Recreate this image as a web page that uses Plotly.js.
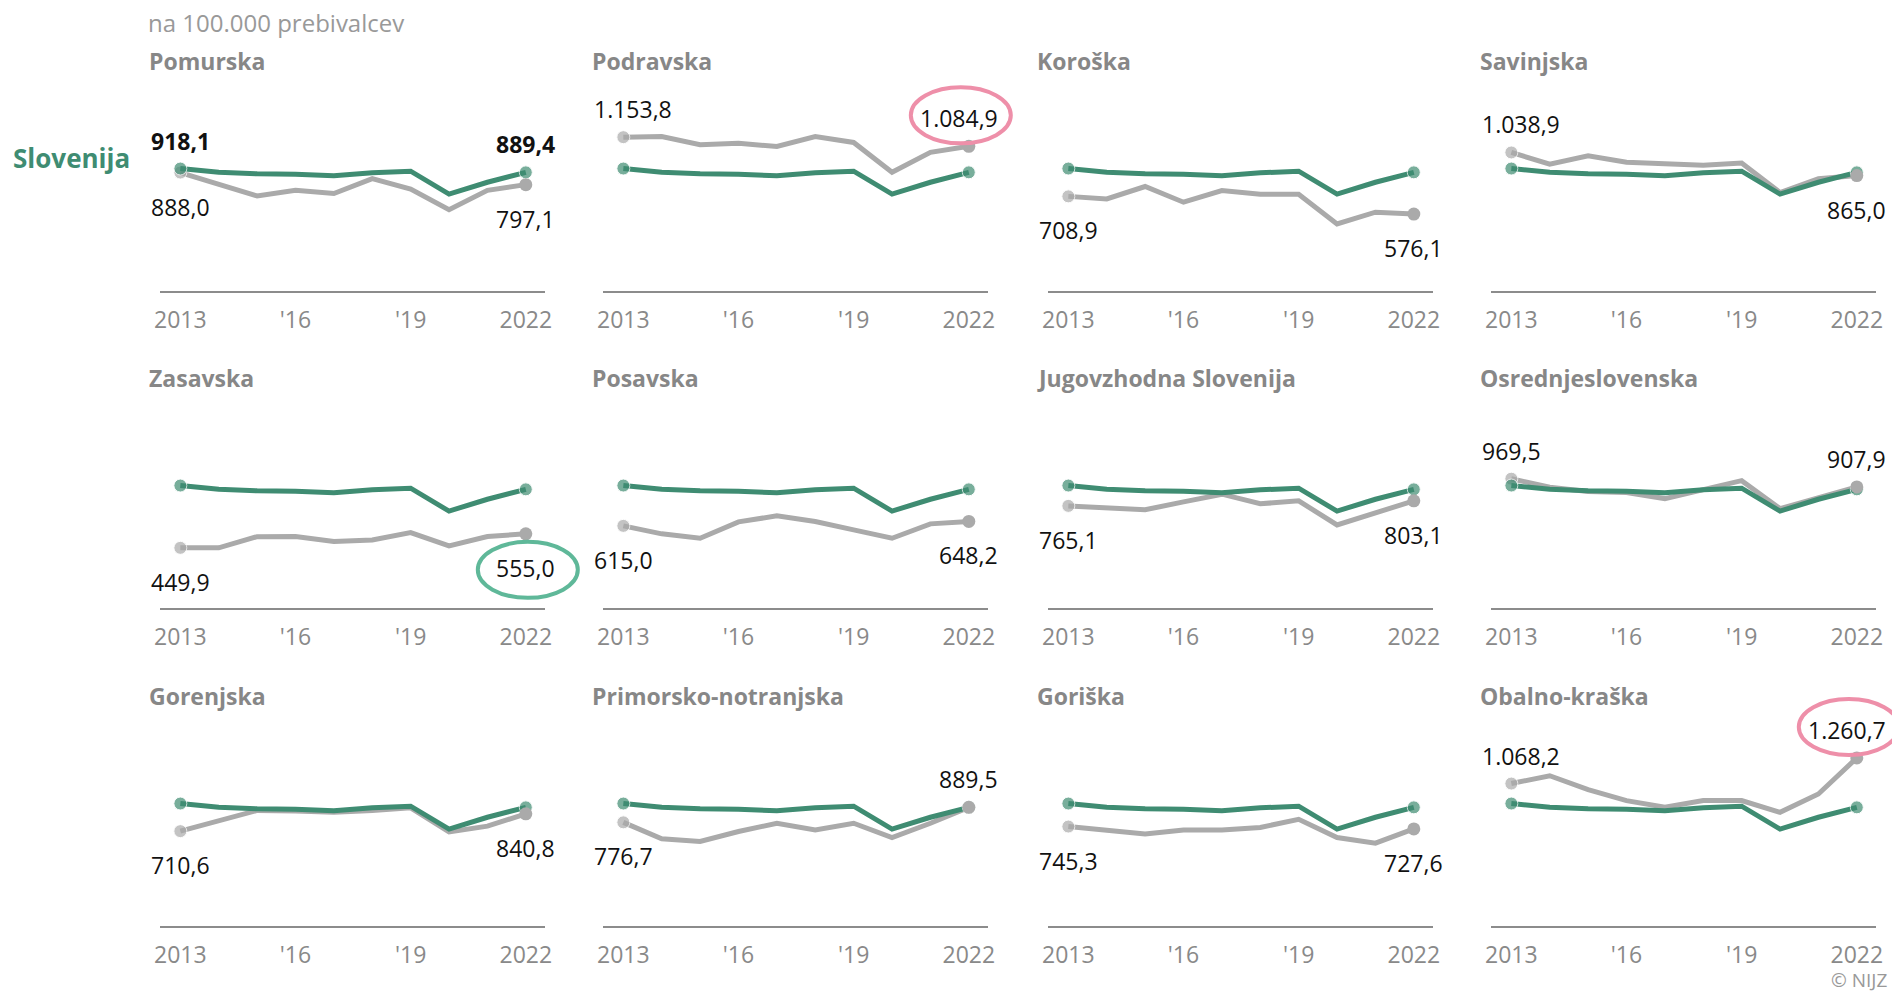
<!DOCTYPE html>
<html>
<head>
<meta charset="utf-8">
<script src="https://cdn.plot.ly/plotly-3.0.1.min.js"></script>
<style>
  html, body { margin: 0; padding: 0; background: #fff; }
  #chart { width: 1892px; height: 994px; }
</style>
</head>
<body>
<div id="chart"></div>
<script>
// ---------------- DATA ----------------
const years = [2013, 2014, 2015, 2016, 2017, 2018, 2019, 2020, 2021, 2022];
const tickVals = [2013, 2016, 2019, 2022];
const tickText = ['2013', "'16", "'19", '2022'];

const regions = ['Pomurska', 'Podravska', 'Koroška', 'Savinjska',
                 'Zasavska', 'Posavska', 'Jugovzhodna Slovenija', 'Osrednjeslovenska',
                 'Gorenjska', 'Primorsko-notranjska', 'Goriška', 'Obalno-kraška'];

const slovenija           = [918.1, 891, 878, 876, 863, 886, 898, 726, 815, 889.4];
const pomurska            = [888.0, 800, 712, 755, 730, 842, 763, 608, 754, 797.1];
const podravska           = [1153.8, 1158, 1097, 1108, 1084, 1158, 1114, 890, 1040, 1084.9];
const koroska             = [708.9, 690, 783, 665, 753, 725, 725, 502, 590, 576.1];
const savinjska           = [1038.9, 951, 1014, 966, 954, 942, 959, 738, 841, 865.0];
const zasavska            = [449.9, 450, 534, 535, 497, 509, 564, 465, 535, 555.0];
const posavska            = [615.0, 555, 522, 645, 690, 648, 585, 522, 630, 648.2];
const jugovzhodna         = [765.1, 755, 736, 795, 853, 781, 803, 622, 712, 803.1];
const osrednjeslovenska   = [969.5, 905, 874, 866, 820, 886, 955, 745, 825, 907.9];
const gorenjska           = [710.6, 790, 866, 862, 853, 866, 886, 705, 748, 840.8];
const primorskoNotranjska = [776.7, 653, 633, 708, 770, 720, 770, 662, 770, 889.5];
const goriska             = [745.3, 720, 690, 720, 720, 738, 800, 663, 620, 727.6];
const obalnoKraska        = [1068.2, 1127, 1022, 940, 890, 940, 940, 852, 990, 1260.7];

const regionValues = [pomurska, podravska, koroska, savinjska,
                      zasavska, posavska, jugovzhodna, osrednjeslovenska,
                      gorenjska, primorskoNotranjska, goriska, obalnoKraska];

// highlighted end values: [panel index, color]
const highlights = [[1, '#ee8fa9'], [4, '#5fb899'], [11, '#ee8fa9']];

// ---------------- STYLE / LAYOUT ----------------
const W = 1892, H = 994;
const GREEN = '#3f8c72', GRAY = '#aaaaaa', TXT = '#898989';
const FONT = 'Open Sans, Noto Sans, sans-serif';
const colLeft = [160, 603, 1048, 1491];
const colWidth = 385;
const rowBottom = [290.7, 607.7, 925.7];
const plotH = 200;
const xMin = 2012.47, xMax = 2022.5;
const yMax = 1503;

function fmt(v) {
  let [i, d] = v.toFixed(1).split('.');
  i = i.replace(/\B(?=(\d{3})+(?!\d))/g, '.');
  return i + ',' + d;
}
function pxX(col, yr) { return colLeft[col] + (yr - xMin) / (xMax - xMin) * colWidth; }
function pxY(row, v) { return rowBottom[row] - v / yMax * plotH; }

const traces = [];
const layout = {
  width: W, height: H,
  margin: {l: 0, r: 0, t: 0, b: 0},
  paper_bgcolor: '#fff', plot_bgcolor: 'rgba(0,0,0,0)',
  showlegend: false, hovermode: false,
  font: {family: FONT, color: TXT},
  annotations: [], shapes: []
};

const last = years.length - 1;

regionValues.forEach((vals, i) => {
  const row = Math.floor(i / 4), col = i % 4;
  const s = i === 0 ? '' : String(i + 1);
  const xa = 'x' + s, ya = 'y' + s;

  layout['xaxis' + s] = {
    domain: [colLeft[col] / W, (colLeft[col] + colWidth) / W],
    range: [xMin, xMax], anchor: ya,
    showgrid: false, zeroline: false,
    showline: true, linecolor: '#8c8c8c', linewidth: 2,
    ticks: '', tickvals: tickVals, ticktext: tickText,
    tickfont: {family: FONT, size: 23, color: TXT},
    ticklabelstandoff: 8, fixedrange: true
  };
  layout['yaxis' + s] = {
    domain: [1 - rowBottom[row] / H, 1 - (rowBottom[row] - plotH) / H],
    range: [0, yMax], anchor: xa,
    visible: false, showgrid: false, zeroline: false, fixedrange: true
  };

  // region line (start marker)
  traces.push({
    x: years, y: vals, xaxis: xa, yaxis: ya, type: 'scatter', mode: 'lines+markers',
    line: {color: GRAY, width: 5},
    marker: {color: GRAY, size: years.map((_, k) => k === 0 ? 13 : 0)},
    cliponaxis: false
  });
  // Slovenia line
  traces.push({
    x: years, y: slovenija, xaxis: xa, yaxis: ya, type: 'scatter', mode: 'lines+markers',
    line: {color: GREEN, width: 5},
    marker: {color: GREEN, size: years.map((_, k) => (k === 0 || k === last) ? 13 : 0)},
    cliponaxis: false
  });
  // region end marker on top
  traces.push({
    x: [years[last]], y: [vals[last]], xaxis: xa, yaxis: ya, type: 'scatter', mode: 'markers',
    marker: {color: GRAY, size: 13}, cliponaxis: false
  });

  // panel title
  layout.annotations.push({
    xref: 'paper', yref: 'paper',
    x: (colLeft[col] - 13) / W, y: 1 - (rowBottom[row] - 230) / H,
    xanchor: 'left', yanchor: 'middle', showarrow: false,
    text: '<b>' + regions[i] + '</b>',
    font: {family: FONT, size: 23, color: '#878787'}
  });

  // value labels (start, end)
  [0, last].forEach(k => {
    const above = vals[k] > slovenija[k];
    layout.annotations.push({
      xref: xa, yref: ya, x: years[k], y: vals[k],
      xanchor: k === 0 ? 'left' : 'right', yanchor: 'middle',
      xshift: k === 0 ? -31 : 31, yshift: above ? 28 : -34,
      showarrow: false, text: fmt(vals[k]),
      font: {family: FONT, size: 23, color: '#111'}
    });
  });

  if (i === 0) {
    [0, last].forEach(k => {
      layout.annotations.push({
        xref: xa, yref: ya, x: years[k], y: slovenija[k],
        xanchor: k === 0 ? 'left' : 'right', yanchor: 'middle',
        xshift: k === 0 ? -31 : 31, yshift: 28,
        showarrow: false, text: '<b>' + fmt(slovenija[k]) + '</b>',
        font: {family: FONT, size: 23, color: '#111'}
      });
    });
    layout.annotations.push({
      xref: 'paper', yref: ya, x: 11 / W, y: slovenija[0],
      xanchor: 'left', yanchor: 'middle', yshift: 11, showarrow: false,
      text: '<b>Slovenija</b>', font: {family: FONT, size: 26, color: GREEN}
    });
  }
});

// highlight ellipses around end labels
highlights.forEach(([i, color]) => {
  const row = Math.floor(i / 4), col = i % 4;
  const vals = regionValues[i];
  const above = vals[last] > slovenija[last];
  const cx = pxX(col, years[last]) + (above ? -8 : 2);
  const cy = pxY(row, vals[last]) + (above ? -31 : 36);
  const rx = 50, ry = 28;
  layout.shapes.push({
    type: 'circle', xref: 'paper', yref: 'paper',
    x0: (cx - rx) / W, x1: (cx + rx) / W,
    y0: 1 - (cy + ry) / H, y1: 1 - (cy - ry) / H,
    line: {color: color, width: 4}, fillcolor: 'rgba(0,0,0,0)'
  });
});

layout.annotations.push({
  xref: 'paper', yref: 'paper', x: 146 / W, y: 1 - 22 / H,
  xanchor: 'left', yanchor: 'middle', showarrow: false,
  text: 'na 100.000 prebivalcev', font: {family: FONT, size: 24, color: '#999'}
});
layout.annotations.push({
  xref: 'paper', yref: 'paper', x: 1888 / W, y: 0,
  xanchor: 'right', yanchor: 'bottom', showarrow: false,
  borderpad: 0,
  text: '© NIJZ', font: {family: FONT, size: 19, color: '#999'}
});

Plotly.newPlot('chart', traces, layout, {staticPlot: true, displayModeBar: false});
</script>
</body>
</html>
